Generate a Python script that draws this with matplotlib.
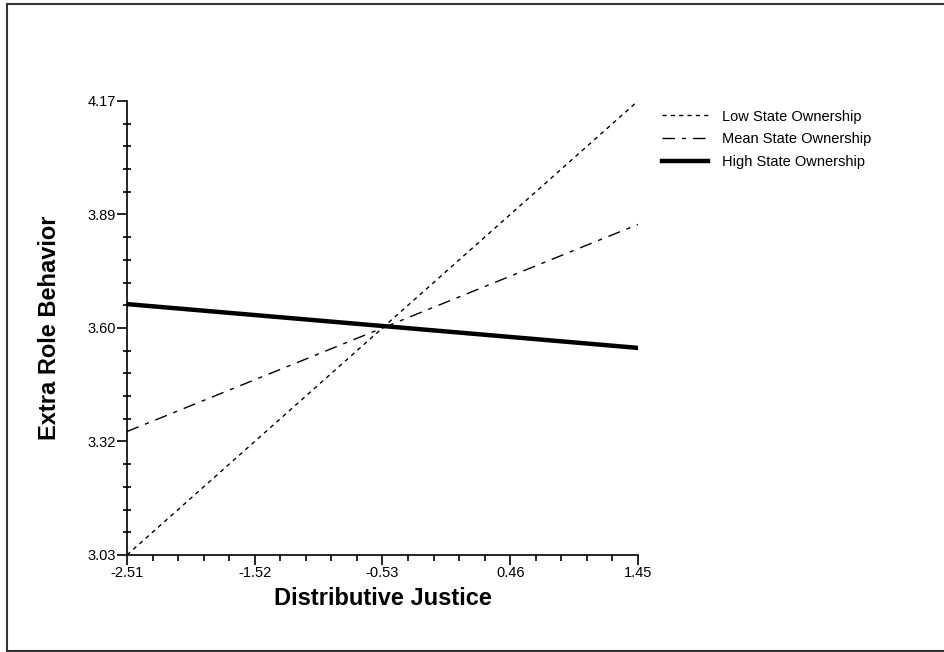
import numpy as np
import matplotlib.pyplot as plt
from matplotlib.lines import Line2D
from matplotlib.ticker import AutoMinorLocator

plt.rcParams['font.family'] = ['Liberation Sans', 'DejaVu Sans']

# simple slopes: distributive justice at the axis ends
justice = [-2.51, 1.45]
low_own = [3.03, 4.17]
mean_own = [3.34, 3.86]
high_own = [3.66, 3.55]

x_labels = ["-2.51", "-1.52", "-0.53", "0.46", "1.45"]
y_labels = ["3.03", "3.32", "3.60", "3.89", "4.17"]

fig = plt.figure(figsize=(9.44, 6.52), dpi=100)
ax = fig.add_axes([0.1345, 0.1488, 0.5413, 0.6963])

low_ls = (0, (3, 3))
mean_ls = (0, (9, 5, 3, 5))
ax.plot(justice, low_own, color="black", lw=1.0, ls=low_ls)
ax.plot(justice, mean_own, color="black", lw=1.0, ls=mean_ls)
ax.plot(justice, high_own, color="black", lw=3.2)

ax.set_xlim(justice[0], justice[1])
ax.set_ylim(low_own[0], low_own[1])
# tick positions are evenly spaced; the labels are rounded values
ax.set_xticks(np.linspace(justice[0], justice[1], len(x_labels)))
ax.set_xticklabels(x_labels)
ax.set_yticks(np.linspace(low_own[0], low_own[1], len(y_labels)))
ax.set_yticklabels(y_labels)
ax.xaxis.set_minor_locator(AutoMinorLocator(5))
ax.yaxis.set_minor_locator(AutoMinorLocator(5))

for side in ("top", "right"):
    ax.spines[side].set_visible(False)
for side in ("left", "bottom"):
    ax.spines[side].set_linewidth(1.2)

ax.tick_params(axis="both", which="major", labelsize=10.5, width=1.2, length=7,
               direction="out", pad=1)
ax.tick_params(axis="x", which="minor", width=1.2, length=4, direction="out")
ax.tick_params(axis="y", which="minor", width=1.2, length=6, direction="inout")

ax.set_xlabel("Distributive Justice", fontsize=17, fontweight="bold", labelpad=5)
ax.set_ylabel("Extra Role Behavior", fontsize=17, fontweight="bold", labelpad=19)

handles = [
    Line2D([], [], color="black", lw=1.0, ls=low_ls),
    Line2D([], [], color="black", lw=1.0, ls=mean_ls),
    Line2D([], [], color="black", lw=3.2),
]
ax.legend(handles, ["Low State Ownership", "Mean State Ownership",
                    "High State Ownership"],
          loc="upper left", bbox_to_anchor=(1.022, 1.01), frameon=False,
          fontsize=10.5, handlelength=3.1, handletextpad=1.0, labelspacing=0.6)

# page border (left, top, bottom edges of the scanned figure box)
border = dict(transform=fig.transFigure, color="#333333", lw=1.5)
fig.add_artist(Line2D([0.0075, 0.0075], [0.0015, 0.994], **border))
fig.add_artist(Line2D([0.0075, 1.0], [0.994, 0.994], **border))
fig.add_artist(Line2D([0.0075, 1.0], [0.0015, 0.0015], **border))

fig.savefig("out.png", dpi=100)
